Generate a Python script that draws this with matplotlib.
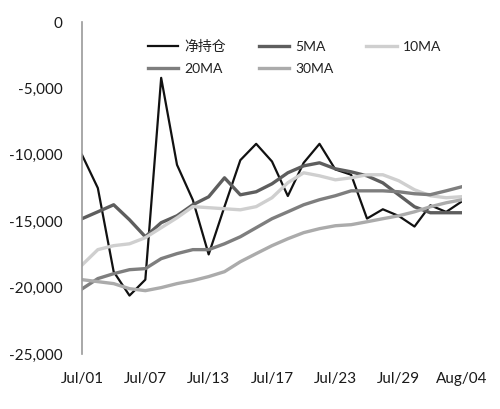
import matplotlib
matplotlib.use("Agg")
import matplotlib.pyplot as plt

plt.rcParams['font.family'] = ['Lato', 'Noto Sans CJK SC', 'DejaVu Sans']

tick_labels = ["Jul/01", "Jul/07", "Jul/13", "Jul/17", "Jul/23", "Jul/29", "Aug/04"]
tick_every = 4

net_pos = [-10000, -12500, -18800, -20600, -19400, -4200, -10750, -13400, -17500,
           -13900, -10400, -9170, -10500, -13100, -10600, -9170, -11100, -11500,
           -14800, -14100, -14600, -15400, -13800, -14300, -13500]
ma5 = [-14810, -14290, -13760, -14890, -16170, -15110, -14590, -13760, -13160,
       -11730, -13010, -12780, -12180, -11350, -10830, -10600, -11050, -11280,
       -11580, -12110, -13010, -13910, -14360, -14360, -14360]
ma10 = [-18300, -17140, -16840, -16700, -16240, -15490, -14740, -13900, -13980,
        -14060, -14140, -13900, -13230, -12100, -11350, -11580, -11880, -11730,
        -11500, -11500, -11950, -12630, -13080, -13230, -13150]
ma20 = [-20100, -19320, -18950, -18650, -18570, -17820, -17440, -17140, -17140,
        -16700, -16170, -15490, -14810, -14290, -13760, -13380, -13080, -12710,
        -12710, -12710, -12780, -12930, -13000, -12710, -12400]
ma30 = [-19400, -19550, -19700, -20080, -20230, -20000, -19700, -19470, -19170,
        -18800, -18050, -17440, -16840, -16320, -15860, -15560, -15340, -15260,
        -15040, -14810, -14590, -14290, -13910, -13610, -13380]

x = list(range(len(net_pos)))

fig = plt.figure(figsize=(5.0, 4.09), dpi=100)
ax = fig.add_axes([0.164, 0.1345, 0.76, 0.8115])

l_net, = ax.plot(x, net_pos, color='#111111', lw=1.6, label='净持仓')
l5, = ax.plot(x, ma5, color='#5e5e5e', lw=2.4, label='5MA')
l10, = ax.plot(x, ma10, color='#cfcfcf', lw=2.4, label='10MA')
l20, = ax.plot(x, ma20, color='#7e7e7e', lw=2.4, label='20MA')
l30, = ax.plot(x, ma30, color='#ababab', lw=2.4, label='30MA')

ax.set_xlim(0, len(x) - 1)
ax.set_ylim(-25000, 0)
ax.set_yticks(range(-25000, 1, 5000))
ax.set_yticklabels([f"{v:,}" for v in range(-25000, 1, 5000)])
ax.set_xticks(x[::tick_every])
ax.set_xticklabels(tick_labels)

for s in ['top', 'right', 'bottom']:
    ax.spines[s].set_visible(False)
ax.spines['left'].set_color('#9a9a9a')
ax.spines['left'].set_linewidth(1.2)
ax.tick_params(axis='both', length=0, labelsize=11, colors='#1a1a1a')
ax.tick_params(axis='y', pad=14)
ax.tick_params(axis='x', pad=13)

leg = ax.legend([l_net, l20, l5, l30, l10], ['净持仓', '20MA', '5MA', '30MA', '10MA'],
                ncol=3, frameon=False, fontsize=10, handlelength=2.2,
                handletextpad=0.4, columnspacing=2.4, labelspacing=0.75,
                loc='upper left', bbox_to_anchor=(0.14, 0.985))
for t in leg.get_texts():
    t.set_color('#222222')

fig.savefig('out.png', dpi=100)
